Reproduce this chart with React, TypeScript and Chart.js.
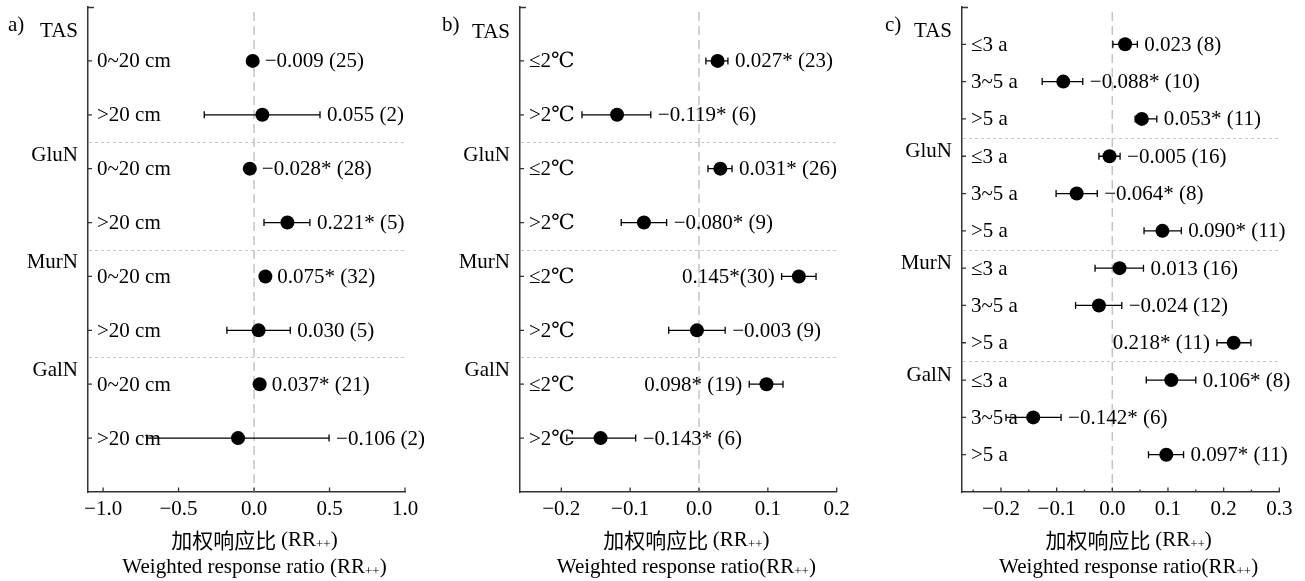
import React, { useEffect, useRef } from "react";
import { Chart, registerables } from "chart.js";

Chart.register(...registerables);

// ---------------- data ----------------
const GROUPS = ["TAS", "GluN", "MurN", "GalN"];

// a) soil depth
const depthClasses = ["0~20 cm", ">20 cm"];
const depthMean = [-0.009, 0.055, -0.028, 0.221, 0.075, 0.03, 0.037, -0.106];
const depthLow = [-0.03, -0.33, -0.05, 0.066, 0.055, -0.18, 0.017, -0.71];
const depthHigh = [0.012, 0.437, -0.006, 0.37, 0.095, 0.24, 0.057, 0.497];
const depthText = ["−0.009 (25)", "0.055 (2)", "−0.028* (28)", "0.221* (5)", "0.075* (32)", "0.030 (5)", "0.037* (21)", "−0.106 (2)"];
const depthSide = ["right", "right", "right", "right", "right", "right", "right", "right"];

// b) warming magnitude
const warmClasses = ["≤2℃", ">2℃"];
const warmMean = [0.027, -0.119, 0.031, -0.08, 0.145, -0.003, 0.098, -0.143];
const warmLow = [0.01, -0.17, 0.013, -0.113, 0.12, -0.044, 0.073, -0.192];
const warmHigh = [0.042, -0.07, 0.048, -0.047, 0.17, 0.038, 0.122, -0.092];
const warmText = ["0.027* (23)", "−0.119* (6)", "0.031* (26)", "−0.080* (9)", "0.145*(30)", "−0.003 (9)", "0.098* (19)", "−0.143* (6)"];
const warmSide = ["right", "right", "right", "right", "left", "right", "left", "right"];

// c) warming duration
const durClasses = ["≤3 a", "3~5 a", ">5 a"];
const durMean = [0.023, -0.088, 0.053, -0.005, -0.064, 0.09, 0.013, -0.024, 0.218, 0.106, -0.142, 0.097];
const durLow = [0.001, -0.126, 0.041, -0.024, -0.101, 0.057, -0.031, -0.066, 0.188, 0.061, -0.191, 0.065];
const durHigh = [0.045, -0.053, 0.08, 0.014, -0.027, 0.124, 0.056, 0.017, 0.249, 0.15, -0.092, 0.128];
const durText = ["0.023 (8)", "−0.088* (10)", "0.053* (11)", "−0.005 (16)", "−0.064* (8)", "0.090* (11)", "0.013 (16)", "−0.024 (12)", "0.218* (11)", "0.106* (8)", "−0.142* (6)", "0.097* (11)"];
const durSide = ["right", "right", "right", "right", "right", "right", "right", "right", "left", "right", "right", "right"];

const ticksA = [-1.0, -0.5, 0, 0.5, 1.0];
const ticksB = [-0.2, -0.1, 0, 0.1, 0.2];
const ticksC = [-0.2, -0.1, 0, 0.1, 0.2, 0.3];
const minorC = [-0.25, -0.15, -0.05, 0.05, 0.15, 0.25];

const titleCn = "加权响应比 ";
const titleEnA = "Weighted response ratio (RR";
const titleEnBC = "Weighted response ratio(RR";

// ---------------- styling ----------------
const SERIF = '"Liberation Serif", "DejaVu Serif", "Noto Sans CJK SC", serif';
const CJK = '"Noto Sans CJK SC", "Liberation Serif", sans-serif';
const FS = 21;
const H = 581;
const BOTTOM = 492;

type Cfg = {
  letter: string;
  classes: string[];
  mean: number[];
  low: number[];
  high: number[];
  text: string[];
  side: string[];
  xMin: number;
  xMax: number;
  ticks: number[];
  minor: number[];
  title2: string;
  offset: number;
  width: number;
  left: number;
  right: number;
  letterX: number;
  liftFirst: number;
  lift: number;
};

const panels: Cfg[] = [
  {
    letter: "a)", classes: depthClasses, mean: depthMean, low: depthLow, high: depthHigh, text: depthText, side: depthSide,
    xMin: -1.1, xMax: 1.0, ticks: ticksA, minor: [], title2: titleEnA,
    offset: 0, width: 430, left: 88, right: 405, letterX: 8, liftFirst: 0.55, lift: 0.25,
  },
  {
    letter: "b)", classes: warmClasses, mean: warmMean, low: warmLow, high: warmHigh, text: warmText, side: warmSide,
    xMin: -0.26, xMax: 0.2, ticks: ticksB, minor: [], title2: titleEnBC,
    offset: 430, width: 440, left: 90, right: 406.7, letterX: 12, liftFirst: 0.52, lift: 0.25,
  },
  {
    letter: "c)", classes: durClasses, mean: durMean, low: durLow, high: durHigh, text: durText, side: durSide,
    xMin: -0.27, xMax: 0.3, ticks: ticksC, minor: minorC, title2: titleEnBC,
    offset: 870, width: 435, left: 92, right: 409.3, letterX: 15, liftFirst: 0.35, lift: 0.12,
  },
];

function fmtTick(v: number) {
  const s = Math.abs(v).toFixed(1);
  return v < -1e-9 ? "−" + s : s;
}

function drawRich(ctx: CanvasRenderingContext2D, parts: { t: string; font: string; dy?: number }[], cx: number, y: number) {
  let total = 0;
  const widths = parts.map((p) => {
    ctx.font = p.font;
    const w = ctx.measureText(p.t).width;
    total += w;
    return w;
  });
  let x = cx - total / 2;
  ctx.textAlign = "left";
  ctx.textBaseline = "middle";
  parts.forEach((p, i) => {
    ctx.font = p.font;
    ctx.fillText(p.t, x, y + (p.dy || 0));
    x += widths[i];
  });
}

function Panel({ cfg }: { cfg: Cfg }) {
  const ref = useRef<HTMLCanvasElement>(null);
  useEffect(() => {
    const canvas = ref.current!;
    const n = cfg.mean.length;
    const k = cfg.classes.length;
    const serifFont = `${FS}px ${SERIF}`;
    const subFont = `13px ${SERIF}`;

    const plugin = {
      id: "forest",
      beforeDatasetsDraw(chart: any) {
        const { ctx, chartArea: a, scales } = chart;
        const x = scales.x, y = scales.y;
        ctx.save();
        // zero reference line
        ctx.strokeStyle = "#c4c4c4";
        ctx.lineWidth = 1.5;
        ctx.setLineDash([9, 5]);
        const x0 = x.getPixelForValue(0);
        ctx.beginPath();
        ctx.moveTo(x0, a.top + 5);
        ctx.lineTo(x0, a.bottom);
        ctx.stroke();
        // group separators
        ctx.strokeStyle = "#c8c8c8";
        ctx.lineWidth = 1;
        ctx.setLineDash([3, 3]);
        for (let g = 1; g < GROUPS.length; g++) {
          const yy = Math.round(y.getPixelForValue(g * k - 0.5)) + 0.5;
          ctx.beginPath();
          ctx.moveTo(a.left + 1, yy);
          ctx.lineTo(a.right, yy);
          ctx.stroke();
        }
        // error bars
        ctx.setLineDash([]);
        ctx.strokeStyle = "#000";
        ctx.lineWidth = 1.3;
        for (let i = 0; i < n; i++) {
          const yy = y.getPixelForValue(i);
          const xl = x.getPixelForValue(cfg.low[i]);
          const xh = x.getPixelForValue(cfg.high[i]);
          ctx.beginPath();
          ctx.moveTo(xl, yy);
          ctx.lineTo(xh, yy);
          ctx.moveTo(xl, yy - 3.5);
          ctx.lineTo(xl, yy + 3.5);
          ctx.moveTo(xh, yy - 3.5);
          ctx.lineTo(xh, yy + 3.5);
          ctx.stroke();
        }
        ctx.restore();
      },
      afterDraw(chart: any) {
        const { ctx, chartArea: a, scales } = chart;
        const x = scales.x, y = scales.y;
        ctx.save();
        // inward ticks
        ctx.strokeStyle = "#333";
        ctx.lineWidth = 1.3;
        ctx.beginPath();
        cfg.ticks.forEach((v) => {
          const px = x.getPixelForValue(v);
          ctx.moveTo(px, a.bottom);
          ctx.lineTo(px, a.bottom - 4.5);
        });
        cfg.minor.forEach((v) => {
          const px = x.getPixelForValue(v);
          ctx.moveTo(px, a.bottom);
          ctx.lineTo(px, a.bottom - 2.5);
        });
        ctx.moveTo(a.left, a.top + 0.5);
        ctx.lineTo(a.left + 6, a.top + 0.5);
        for (let i = 0; i < n; i++) {
          const py = y.getPixelForValue(i);
          ctx.moveTo(a.left, py);
          ctx.lineTo(a.left + 4, py);
        }
        ctx.stroke();

        ctx.fillStyle = "#000";
        ctx.font = serifFont;
        ctx.textBaseline = "middle";
        // row labels
        ctx.textAlign = "left";
        for (let i = 0; i < n; i++) {
          ctx.fillText(cfg.classes[i % k], a.left + 9, y.getPixelForValue(i) + 1);
        }
        // group labels
        ctx.textAlign = "right";
        GROUPS.forEach((g, gi) => {
          const fy = gi * k - (gi === 0 ? cfg.liftFirst : cfg.lift);
          ctx.fillText(g, a.left - 10, y.getPixelForValue(fy));
        });
        // panel letter
        ctx.textAlign = "left";
        ctx.fillText(cfg.letter, cfg.letterX, 25);
        // value labels
        for (let i = 0; i < n; i++) {
          const py = y.getPixelForValue(i) + 1;
          const pm = x.getPixelForValue(cfg.mean[i]);
          if (cfg.side[i] === "left") {
            const px = Math.min(x.getPixelForValue(cfg.low[i]) - 7, pm - 12);
            ctx.textAlign = "right";
            ctx.fillText(cfg.text[i], px, py);
          } else {
            const px = Math.max(x.getPixelForValue(cfg.high[i]) + 7, pm + 12);
            ctx.textAlign = "left";
            ctx.fillText(cfg.text[i], px, py);
          }
        }
        // axis titles
        const cx = (a.left + a.right) / 2 + 8;
        drawRich(ctx, [
          { t: titleCn, font: `${FS}px ${CJK}` },
          { t: "(RR", font: serifFont },
          { t: "++", font: subFont, dy: 5 },
          { t: ")", font: serifFont },
        ], cx, 540);
        drawRich(ctx, [
          { t: cfg.title2, font: serifFont },
          { t: "++", font: subFont, dy: 5 },
          { t: ")", font: serifFont },
        ], cx, 567);
        ctx.restore();
      },
    };

    const chart = new Chart(canvas, {
      type: "scatter",
      data: {
        datasets: [
          {
            data: cfg.mean.map((m, i) => ({ x: m, y: i })),
            pointRadius: 7,
            pointHoverRadius: 7,
            backgroundColor: "#000",
            borderColor: "#000",
            borderWidth: 0,
          },
        ],
      },
      options: {
        responsive: false,
        maintainAspectRatio: false,
        animation: false,
        events: [],
        layout: { padding: { left: 0, top: 7, right: cfg.width - cfg.right, bottom: 0 } },
        plugins: { legend: { display: false }, tooltip: { enabled: false } },
        scales: {
          x: {
            type: "linear",
            min: cfg.xMin,
            max: cfg.xMax,
            afterBuildTicks: (s: any) => {
              s.ticks = cfg.ticks.map((v) => ({ value: v }));
            },
            afterFit: (s: any) => {
              s.height = H - BOTTOM;
            },
            grid: { display: false, drawTicks: false },
            border: { display: true, color: "#333", width: 1.5 },
            ticks: {
              color: "#000",
              font: { family: SERIF, size: FS },
              padding: 5,
              maxRotation: 0,
              autoSkip: false,
              callback: (v: any) => fmtTick(Number(v)),
            },
          },
          y: {
            type: "linear",
            min: -1,
            max: n,
            reverse: true,
            ticks: { display: false },
            grid: { display: false, drawTicks: false },
            border: { display: true, color: "#333", width: 1.5 },
            afterFit: (s: any) => {
              s.width = cfg.left;
            },
          },
        },
      } as any,
      plugins: [plugin],
    });
    return () => chart.destroy();
  }, [cfg]);

  return (
    <canvas
      ref={ref}
      width={cfg.width}
      height={H}
      style={{ position: "absolute", left: cfg.offset, top: 0, width: cfg.width, height: H }}
    />
  );
}

export default function App() {
  return (
    <div style={{ position: "absolute", left: 0, top: 0, width: 1305, height: H, background: "#fff", overflow: "hidden" }}>
      {panels.map((p) => (
        <Panel key={p.letter} cfg={p} />
      ))}
    </div>
  );
}
